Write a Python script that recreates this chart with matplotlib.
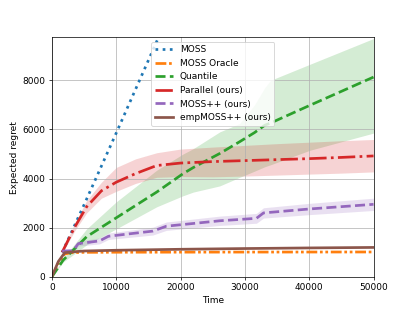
import matplotlib
matplotlib.use("Agg")
import matplotlib.pyplot as plt
import numpy as np

# MOSS
moss_t = [1600, 5000, 10000, 16500, 20000, 30000, 40000, 50000]
moss_v = [990, 2930, 5850, 9700, 11750, 17600, 23450, 29300]

# MOSS Oracle
oracle_t = [0, 1000, 2000, 3000, 5000, 10000, 20000, 30000, 40000, 50000]
oracle_v = [0, 560, 930, 980, 995, 1000, 1003, 1006, 1008, 1010]

# Quantile
quant_t = [0, 1760, 5400, 10000, 16300, 20400, 22000, 26100, 29200, 31500, 33100, 34000, 40100, 50000]
quant_v = [0, 680, 1630, 2400, 3450, 4200, 4450, 5020, 5500, 5870, 6170, 6260, 6980, 8130]
quant_lo = [0, 600, 1300, 1950, 2850, 3300, 3450, 3700, 4050, 4300, 4480, 4560, 5150, 5850]
quant_hi = [0, 750, 1950, 3050, 4340, 5000, 5220, 5900, 6240, 7000, 7700, 8000, 8650, 9700]

# Parallel (ours)
par_t = [1600, 3500, 5400, 7700, 10000, 13000, 16300, 20000, 25000, 30000, 35000, 40000, 45000, 50000]
par_v = [1000, 2000, 2850, 3500, 3850, 4200, 4530, 4630, 4690, 4730, 4770, 4810, 4860, 4920]
par_lo = [950, 1850, 2600, 3200, 3480, 3800, 4050, 4080, 4070, 4100, 4140, 4180, 4220, 4270]
par_hi = [1050, 2150, 3100, 3850, 4450, 4800, 5050, 5200, 5280, 5350, 5420, 5480, 5540, 5590]

# MOSS++ (ours)
mpp_t = [1600, 3300, 4100, 7400, 8800, 15700, 17800, 26100, 31800, 32900, 40000, 50000]
mpp_v = [1050, 1060, 1350, 1460, 1650, 1860, 2060, 2280, 2380, 2600, 2760, 2950]
mpp_lo = [1000, 990, 1250, 1340, 1520, 1700, 1890, 2090, 2180, 2390, 2530, 2700]
mpp_hi = [1100, 1130, 1450, 1580, 1780, 2020, 2230, 2470, 2580, 2810, 2990, 3200]

# empMOSS++ (ours)
emp_t = [0, 1000, 2000, 3500, 5000, 10000, 20000, 30000, 40000, 50000]
emp_v = [0, 620, 980, 1020, 1050, 1080, 1120, 1150, 1175, 1195]

fig = plt.figure(figsize=(6.385, 4.785), dpi=65)
ax = fig.add_subplot(111)

lw = 3
ax.plot(moss_t, moss_v, color='tab:blue', ls=':', lw=lw, label='MOSS')
ax.plot(oracle_t, oracle_v, color='tab:orange', ls=(0, (4, 1, 1, 1, 1, 1)), lw=lw, label='MOSS Oracle')
ax.plot(quant_t, quant_v, color='tab:green', ls='--', lw=lw, label='Quantile')
ax.fill_between(quant_t, quant_lo, quant_hi, color='tab:green', alpha=0.2, lw=0)
ax.plot(par_t, par_v, color='tab:red', ls='-.', lw=lw, label='Parallel (ours)')
ax.fill_between(par_t, par_lo, par_hi, color='tab:red', alpha=0.2, lw=0)
ax.plot(mpp_t, mpp_v, color='tab:purple', ls='--', lw=lw, label='MOSS++ (ours)')
ax.fill_between(mpp_t, mpp_lo, mpp_hi, color='tab:purple', alpha=0.2, lw=0)
ax.plot(emp_t, emp_v, color='tab:brown', ls='-', lw=lw, label='empMOSS++ (ours)')

ax.set_xlim(0, 50000)
ax.set_ylim(0, 9750)
ax.grid(True)
ax.set_xlabel('Time')
ax.set_ylabel('Expected regret')
ax.legend(loc='upper center')

fig.savefig('out.png', dpi=65)
